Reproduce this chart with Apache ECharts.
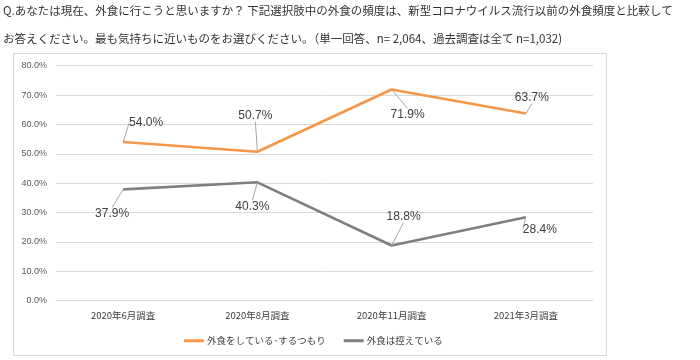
<!DOCTYPE html>
<html><head><meta charset="utf-8">
<script src="https://cdn.jsdelivr.net/npm/echarts@6/dist/echarts.min.js"></script>
<style>html,body{margin:0;padding:0;background:#fff}#c{width:700px;height:360px}</style>
</head><body><div id="c"></div>
<script>
const titleLines = [
  'Q.あなたは現在、外食に行こうと思いますか？ 下記選択肢中の外食の頻度は、新型コロナウイルス流行以前の外食頻度と比較して',
  'お答えください。最も気持ちに近いものをお選びください。（単一回答、n= 2,064、過去調査は全て n=1,032)'
];
const categories = ['2020年6月調査', '2020年8月調査', '2020年11月調査', '2021年3月調査'];
const seriesNames = ['外食をしている･するつもり', '外食は控えている'];
const eatOut = [54.0, 50.7, 71.9, 63.7];
const refrain = [37.9, 40.3, 18.8, 28.4];
const yTicks = [0, 10, 20, 30, 40, 50, 60, 70, 80];

// label offsets (layout only)
const labelOffsets = [
  [[23, -19], [-2, -36], [16, 25], [6, -16]],
  [[-11, 24], [-5, 24], [12, -29], [14, 12]]
];

const chart = echarts.init(document.getElementById('c'));
const font = '"Noto Sans CJK JP", "Noto Sans", sans-serif';
const labelFont = 'Arial, "Liberation Sans", sans-serif';

function mkSeries(name, data, color, si) {
  return {
    name: name, type: 'line', data: data,
    symbol: 'circle', symbolSize: 0.1, showSymbol: true,
    lineStyle: { color: color, width: 2.6 },
    itemStyle: { color: color },
    label: {
      show: true, position: 'inside',
      formatter: p => p.value.toFixed(1) + '%',
      color: '#404040', fontSize: 12, fontFamily: labelFont
    },
    labelLine: { show: true, lineStyle: { color: '#a6a6a6', width: 1 } },
    labelLayout: p => ({ dx: labelOffsets[si][p.dataIndex][0], dy: labelOffsets[si][p.dataIndex][1] }),
    emphasis: { disabled: true }
  };
}

chart.setOption({
  animation: false,
  textStyle: { fontFamily: font },
  graphic: [
    { type: 'rect', shape: { x: 13.5, y: 53.5, width: 593, height: 302 },
      style: { fill: 'none', stroke: '#d9d9d9', lineWidth: 1 }, z: -1 },
    { type: 'text', left: 3, top: 5, style: { text: titleLines[0], fill: '#333', font: '11.5px ' + font } },
    { type: 'text', left: 3, top: 33, style: { text: titleLines[1], fill: '#333', font: '11.5px ' + font } }
  ],
  grid: { left: 56, right: 107, top: 65.7, bottom: 59.3 },
  legend: {
    left: 179, top: 331,
    itemWidth: 20, itemHeight: 3, itemGap: 18, icon: 'rect',
    textStyle: { fontSize: 9.5, color: '#404040', fontFamily: font, padding: [0, 0, 0, -2] },
    data: seriesNames
  },
  xAxis: {
    type: 'category', data: categories, boundaryGap: true,
    axisLine: { lineStyle: { color: '#d9d9d9' } },
    axisTick: { show: false },
    axisLabel: { color: '#404040', fontSize: 9.5, margin: 10, fontFamily: font }
  },
  yAxis: {
    type: 'value', min: yTicks[0], max: yTicks[yTicks.length - 1], interval: 10,
    axisLine: { show: false }, axisTick: { show: false },
    splitLine: { lineStyle: { color: '#d9d9d9', width: 1 } },
    axisLabel: { formatter: v => v.toFixed(1) + '%', color: '#595959', fontSize: 9, margin: 9, fontFamily: labelFont }
  },
  series: [
    mkSeries(seriesNames[0], eatOut, '#F79646', 0),
    mkSeries(seriesNames[1], refrain, '#7F7F7F', 1)
  ]
});
</script></body></html>
